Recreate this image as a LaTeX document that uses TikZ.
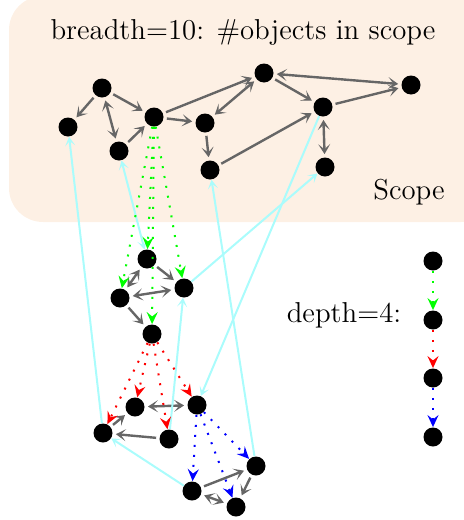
\documentclass[tikz,border=0pt]{standalone}
\usetikzlibrary{arrows.meta}
\definecolor{S}{RGB}{253, 240, 228}
\definecolor{K}{RGB}{102, 102, 102}
\definecolor{C}{RGB}{170, 252, 252}

\begin{document}
\begin{tikzpicture}[x=0.5pt, y=-0.5pt, font=\Large,
  obj/.style={circle, fill=black, inner sep=0pt, minimum size=9.5pt},
  link/.style={K, line width=1.2pt, >={Stealth[length=5pt, width=6pt, inset=2.6pt]}, ->, shorten >=1.5pt, shorten <=1.5pt},
  ref/.style={C, line width=1pt, >={Stealth[length=4.5pt, width=5pt, inset=2.4pt]}, ->},
  hop/.style={loosely dotted, line width=1pt, -{Stealth[length=6pt, width=5.5pt, inset=2.2pt]}}]
  \useasboundingbox (0,0) rectangle (463,520);
  \fill[S, rounded corners=17pt] (9,-4) rectangle (495,222);
  \node (breadth) at (243,32) {breadth=10: \#objects in scope};
  \node (scope) at (409,192) {Scope};
  \node (depth) at (344,315) {depth=4:};
  % objects in scope
  \node[obj] (s1) at (102,88) {};
  \node[obj] (s2) at (68,127) {};
  \node[obj] (s3) at (154,117) {};
  \node[obj] (s4) at (119,151) {};
  \node[obj] (s5) at (205,123) {};
  \node[obj] (s6) at (264,73) {};
  \node[obj] (s7) at (411,85) {};
  \node[obj] (s8) at (323,107) {};
  \node[obj] (s9) at (210,170) {};
  \node[obj] (s10) at (325,167) {};
  % deeper objects
  \node[obj] (m1) at (147,259) {};
  \node[obj] (m2) at (120,298) {};
  \node[obj] (m3) at (184,288) {};
  \node[obj] (m4) at (152,334) {};
  \node[obj] (l1) at (103,433) {};
  \node[obj] (l2) at (135,407) {};
  \node[obj] (l3) at (197,405) {};
  \node[obj] (l4) at (169,439) {};
  \node[obj] (b1) at (192,491) {};
  \node[obj] (b2) at (256,466) {};
  \node[obj] (b3) at (236,507) {};
  % depth legend
  \node[obj] (d1) at (433,261) {};
  \node[obj] (d2) at (433,320) {};
  \node[obj] (d3) at (433,378) {};
  \node[obj] (d4) at (433,437) {};
  % links
  \draw[link] (s1) -- (s2);
  \draw[link, <->] (s1) -- (s4);
  \draw[link] (s1) -- (s3);
  \draw[link] (s4) -- (s3);
  \draw[link] (s3) -- (s5);
  \draw[link] (s3) -- (s6);
  \draw[link, <->] (s5) -- (s6);
  \draw[link, <->] (s6) -- (s7);
  \draw[link] (s6) -- (s8);
  \draw[link] (s8) -- (s7);
  \draw[link] (s5) -- (s9);
  \draw[link] (s9) -- (s8);
  \draw[link, <->] (s8) -- (s10);
  \draw[link, <->] (m1) -- (m2);
  \draw[link] (m1) -- (m3);
  \draw[link, <->] (m2) -- (m3);
  \draw[link] (m2) -- (m4);
  \draw[link] (l1) -- (l2);
  \draw[link, <->] (l2) -- (l3);
  \draw[link] (l4) -- (l1);
  \draw[link] (b1) -- (b2);
  \draw[link] (b2) -- (b3);
  \draw[link, <->] (b3) -- (b1);
  % back references
  \draw[ref] (l1) -- (s2);
  \draw[ref, <->] (s4) -- (m1);
  \draw[ref] (b2) -- (s9);
  \draw[ref] (m3) -- (s10);
  \draw[ref] (s8) -- (l3);
  \draw[ref] (l4) -- (m3);
  \draw[ref] (b1) -- (l1);
  % depth steps
  \foreach \t in {m1,m2,m3,m4} \draw[hop, green] (s3) -- (\t);
  \foreach \t in {l1,l2,l3,l4} \draw[hop, red] (m4) -- (\t);
  \foreach \t in {b1,b2,b3} \draw[hop, blue] (l3) -- (\t);
  \draw[hop, green] (d1) -- (d2);
  \draw[hop, red] (d2) -- (d3);
  \draw[hop, blue] (d3) -- (d4);
\end{tikzpicture}
\end{document}
